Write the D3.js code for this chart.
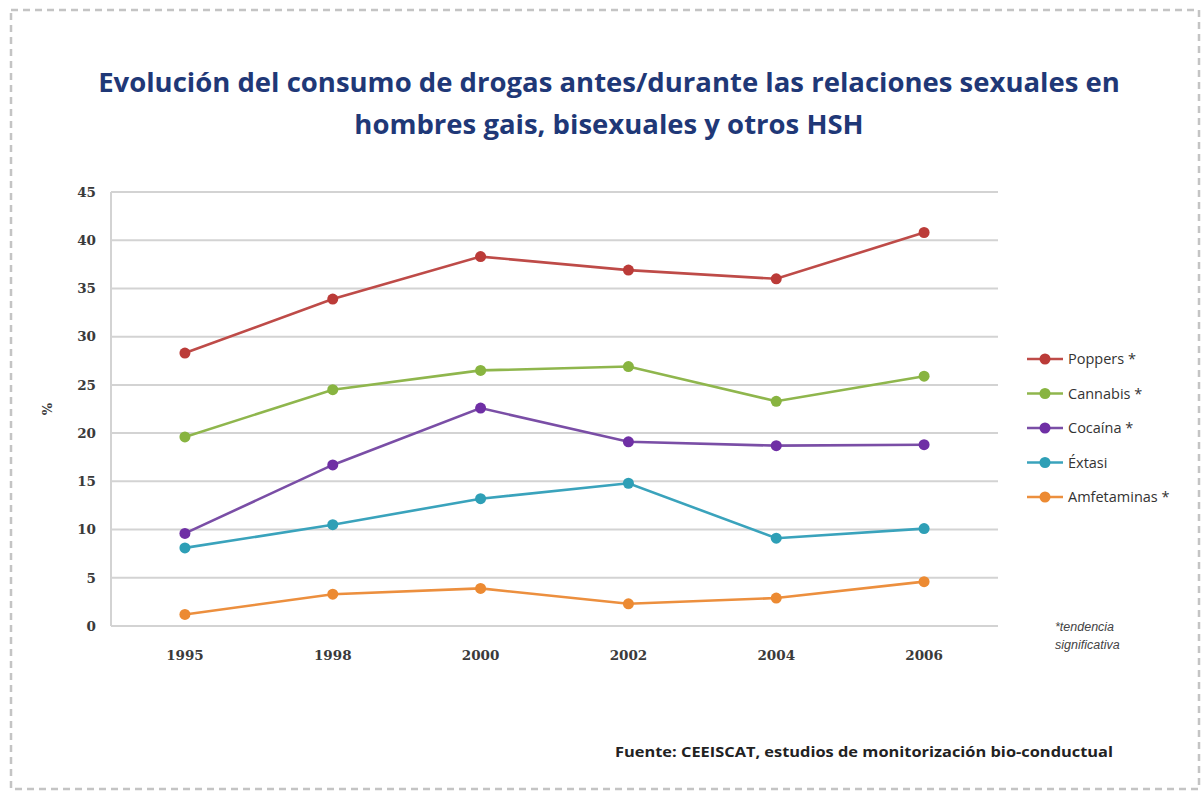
<!DOCTYPE html>
<html>
<head>
  <meta charset="utf-8">
  <title>Evolución del consumo de drogas</title>
  <script src="https://d3js.org/d3.v7.min.js"></script>
  <style>
    body { margin: 0; background: #fff; }
    svg { display: block; }
  </style>
</head>
<body>
<svg class="chart" width="1204" height="794"></svg>
<script>
// Data
const years = ["1995", "1998", "2000", "2002", "2004", "2006"];
const seriesNames = ["Poppers *", "Cannabis *", "Cocaína *", "Éxtasi", "Amfetaminas *"];
const poppers = [28.3, 33.9, 38.3, 36.9, 36.0, 40.8];
const cannabis = [19.6, 24.5, 26.5, 26.9, 23.3, 25.9];
const cocaina = [9.6, 16.7, 22.6, 19.1, 18.7, 18.8];
const extasi = [8.1, 10.5, 13.2, 14.8, 9.1, 10.1];
const amfetaminas = [1.2, 3.3, 3.9, 2.3, 2.9, 4.6];
const yTicks = [0, 5, 10, 15, 20, 25, 30, 35, 40, 45];
const colors = ["#be4b48", "#8fb64d", "#7a4ea6", "#3aa3bc", "#ec8f3e"];
const markerColors = ["#bb3b38", "#88b440", "#6f2fa5", "#2e9fb6", "#ec8a32"];

const series = [poppers, cannabis, cocaina, extasi, amfetaminas];

const sansFont = "'Open Sans', 'Noto Sans', sans-serif";
const serifFont = "'DejaVu Serif', 'Liberation Serif', serif";

const svg = d3.select(".chart");

// dashed frame
svg.append("rect")
  .attr("x", 11).attr("y", 10)
  .attr("width", 1188).attr("height", 779)
  .attr("fill", "none")
  .attr("stroke", "#c4c4c4")
  .attr("stroke-width", 2.5)
  .attr("stroke-dasharray", "7,5");

// title
const title = svg.append("text")
  .attr("text-anchor", "middle")
  .attr("fill", "#1f3877")
  .style("font-family", sansFont)
  .style("font-size", "27.5px")
  .style("font-weight", "bold");
title.append("tspan").attr("x", 609).attr("y", 92)
  .text("Evolución  del consumo  de drogas antes/durante las relaciones  sexuales  en");
title.append("tspan").attr("x", 609).attr("y", 134)
  .text("hombres gais,  bisexuales y otros HSH");

// plot area
const margin = {top: 192, left: 111, right: 998, bottom: 626};

const x = d3.scaleBand()
  .domain(years)
  .range([margin.left, margin.right]);

const y = d3.scaleLinear()
  .domain([0, 45])
  .range([margin.bottom, margin.top]);

// gridlines
svg.append("g")
  .selectAll("line")
  .data(yTicks)
  .join("line")
    .attr("x1", margin.left)
    .attr("x2", margin.right)
    .attr("y1", d => y(d))
    .attr("y2", d => y(d))
    .attr("stroke", "#d3d3d3")
    .attr("stroke-width", 2);

// left axis line
svg.append("line")
  .attr("x1", margin.left).attr("x2", margin.left)
  .attr("y1", margin.top).attr("y2", margin.bottom)
  .attr("stroke", "#d3d3d3")
  .attr("stroke-width", 2);

// y axis labels
const yAxis = svg.append("g")
  .attr("transform", `translate(${margin.left - 8},0)`)
  .call(d3.axisLeft(y).tickValues(yTicks).tickSize(0).tickPadding(7));
yAxis.select(".domain").remove();
yAxis.selectAll("text")
  .style("font-family", serifFont)
  .style("font-size", "13.5px")
  .style("font-weight", "bold")
  .attr("fill", "#3a3a3a");

// x axis labels
const xAxis = svg.append("g")
  .attr("transform", `translate(0,${margin.bottom + 18})`)
  .call(d3.axisBottom(x).tickSize(0).tickPadding(6));
xAxis.select(".domain").remove();
xAxis.selectAll("text")
  .style("font-family", serifFont)
  .style("font-size", "13.5px")
  .style("font-weight", "bold")
  .attr("fill", "#3a3a3a");

// y axis title
svg.append("text")
  .attr("transform", "translate(52,409) rotate(-90)")
  .attr("text-anchor", "middle")
  .style("font-family", serifFont)
  .style("font-size", "13px")
  .style("font-weight", "bold")
  .attr("fill", "#3a3a3a")
  .text("%");

// lines and markers
const line = d3.line()
  .x((d, i) => x(years[i]) + x.bandwidth() / 2)
  .y(d => y(d));

series.forEach((vals, k) => {
  svg.append("path")
    .datum(vals)
    .attr("fill", "none")
    .attr("stroke", colors[k])
    .attr("stroke-width", 2.6)
    .attr("d", line);
  svg.append("g")
    .selectAll("circle")
    .data(vals)
    .join("circle")
      .attr("cx", (d, i) => x(years[i]) + x.bandwidth() / 2)
      .attr("cy", d => y(d))
      .attr("r", 5.5)
      .attr("fill", markerColors[k]);
});

// legend
const legend = svg.append("g").attr("transform", "translate(1027,359)");
seriesNames.forEach((name, k) => {
  const row = legend.append("g").attr("transform", `translate(0,${k * 34.5})`);
  row.append("line")
    .attr("x1", 0).attr("x2", 36)
    .attr("stroke", colors[k])
    .attr("stroke-width", 2.6);
  row.append("circle")
    .attr("cx", 18).attr("r", 5.5)
    .attr("fill", markerColors[k]);
  row.append("text")
    .attr("x", 41).attr("y", 5)
    .style("font-family", sansFont)
    .style("font-size", "14.5px")
    .attr("fill", "#333")
    .text(name);
});

// footnote
const note = svg.append("text")
  .style("font-family", "'Liberation Sans', sans-serif")
  .style("font-size", "12.5px")
  .style("font-style", "italic")
  .attr("fill", "#444");
note.append("tspan").attr("x", 1055).attr("y", 631).text("*tendencia");
note.append("tspan").attr("x", 1055).attr("y", 649).text("significativa");

// source
svg.append("text")
  .attr("x", 615).attr("y", 757)
  .attr("textLength", 498)
  .attr("lengthAdjust", "spacingAndGlyphs")
  .style("font-family", sansFont)
  .style("font-size", "14.5px")
  .style("font-weight", "bold")
  .attr("fill", "#222")
  .text("Fuente: CEEISCAT, estudios de  monitorización bio-conductual");
</script>
</body>
</html>
